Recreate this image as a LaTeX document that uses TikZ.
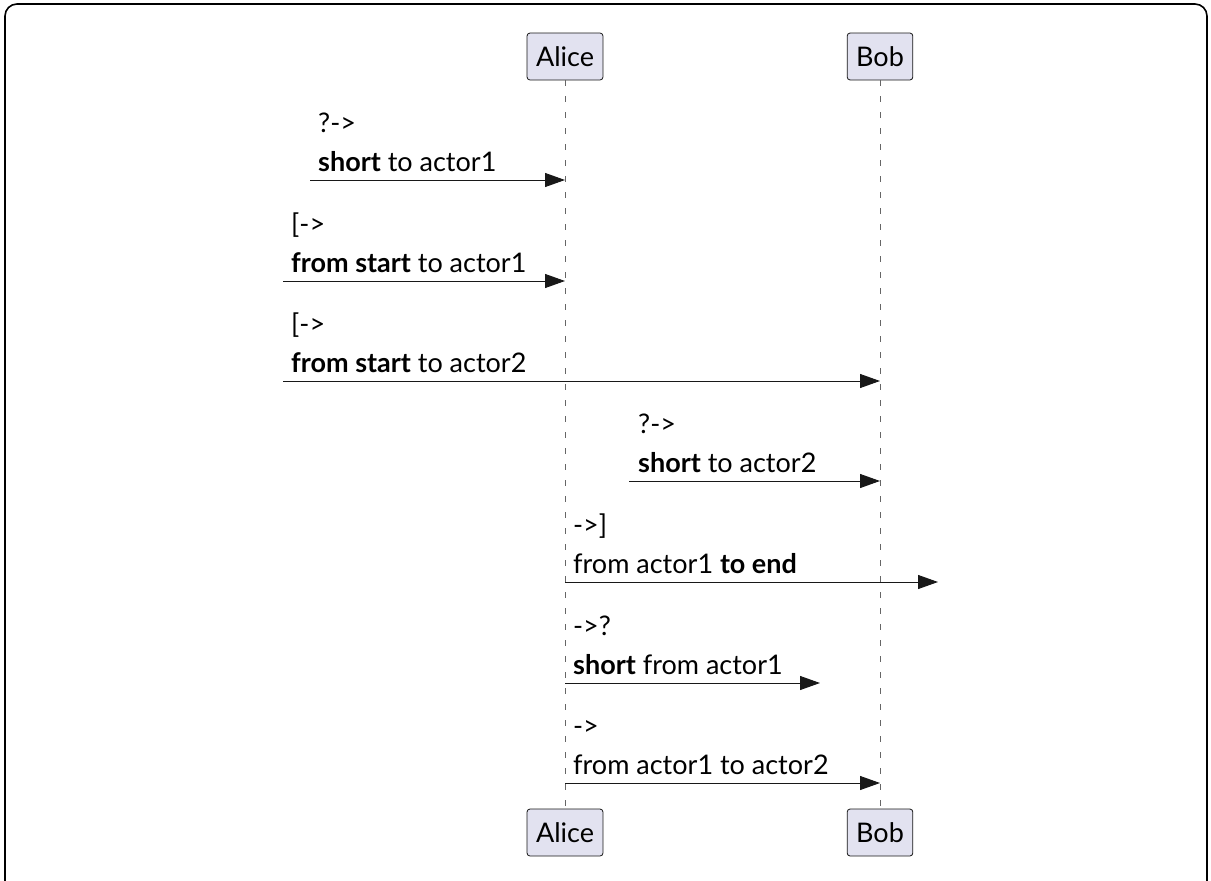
\documentclass[tikz,border=0pt]{standalone}
\usepackage{fontspec}
\setmainfont{Lato}
\usetikzlibrary{arrows.meta}
\definecolor{actorfill}{HTML}{E2E2F0}
\definecolor{linecol}{HTML}{181818}
\definecolor{lifecol}{HTML}{666666}
\begin{document}
\begin{tikzpicture}[x=1pt,y=-1pt,
  actor/.style={draw=linecol, line width=0.8pt, rounded corners=3pt, fill=actorfill,
    minimum height=47pt, inner xsep=9pt, font=\fontsize{27}{32}\selectfont},
  lifeline/.style={draw=lifecol, line width=0.8pt, dash pattern=on 6pt off 10pt},
  msg/.style={draw=linecol, line width=1pt, -{Triangle[length=20pt,width=14pt]}},
  lbl/.style={anchor=base west, inner sep=0pt, font=\fontsize{27}{32}\selectfont}]
\clip (0,0) rectangle (1211,881);
% cadre
\draw[line width=1.6pt, rounded corners=12pt] (5,4) rectangle (1207,930);
% participants
\node[actor] (aliceTop) at (565,56.5) {Alice};
\node[actor] (bobTop) at (880,56.5) {Bob};
\node[actor] (aliceBot) at (565,832.5) {Alice};
\node[actor] (bobBot) at (880,832.5) {Bob};
\draw[lifeline] (aliceTop) -- (aliceBot);
\draw[lifeline] (bobTop) -- (bobBot);
% ?-> vers Alice
\coordinate (s1) at (310,180);
\draw[msg] (s1) -- (aliceTop |- s1);
\node[lbl] (t1a) at (318,132) {?->};
\node[lbl] (t1b) at (318,171) {\textbf{short} to actor1};
% [-> vers Alice
\coordinate (s2) at (283,281);
\draw[msg] (s2) -- (aliceTop |- s2);
\node[lbl] (t2a) at (291,233) {[->};
\node[lbl] (t2b) at (291,272) {\textbf{from start} to actor1};
% [-> vers Bob
\coordinate (s3) at (283,381);
\draw[msg] (s3) -- (bobTop |- s3);
\node[lbl] (t3a) at (291,333) {[->};
\node[lbl] (t3b) at (291,372) {\textbf{from start} to actor2};
% ?-> vers Bob
\coordinate (s4) at (629,481);
\draw[msg] (s4) -- (bobTop |- s4);
\node[lbl] (t4a) at (638,433) {?->};
\node[lbl] (t4b) at (638,472) {\textbf{short} to actor2};
% ->] depuis Alice
\coordinate (e5) at (938,582);
\draw[msg] (aliceTop |- e5) -- (e5);
\node[lbl] (t5a) at (573,534) {->]};
\node[lbl] (t5b) at (573,573) {from actor1 \textbf{to end}};
% ->? depuis Alice
\coordinate (e6) at (820,683);
\draw[msg] (aliceTop |- e6) -- (e6);
\node[lbl] (t6a) at (573,635) {->?};
\node[lbl] (t6b) at (573,674) {\textbf{short} from actor1};
% -> Alice vers Bob
\coordinate (s7) at (0,783);
\draw[msg] (aliceTop |- s7) -- (bobTop |- s7);
\node[lbl] (t7a) at (573,735) {->};
\node[lbl] (t7b) at (573,774) {from actor1 to actor2};
\end{tikzpicture}
\end{document}
